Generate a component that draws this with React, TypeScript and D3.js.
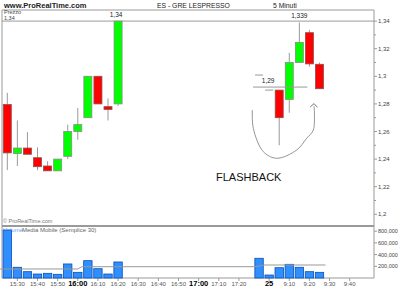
import React, { useEffect } from 'react';
import * as d3 from 'd3';

// ---- data ----
const candleSlot = [0, 1, 2, 3, 4, 5, 6, 7, 8, 9, 10, 11, 27, 28, 29, 30, 31];
const candleOpen = [1.2795, 1.244, 1.248, 1.241, 1.235, 1.2315, 1.242, 1.26, 1.27, 1.3, 1.278, 1.28, 1.29, 1.2833, 1.31, 1.3316, 1.3087];
const candleHigh = [1.288, 1.268, 1.2595, 1.2485, 1.2385, 1.24, 1.265, 1.277, 1.3, 1.3, 1.284, 1.34, 1.29, 1.317, 1.339, 1.3336, 1.31];
const candleLow = [1.232, 1.235, 1.2435, 1.232, 1.2315, 1.2315, 1.24, 1.254, 1.27, 1.28, 1.268, 1.2785, 1.25, 1.2736, 1.31, 1.307, 1.291];
const candleClose = [1.2445, 1.248, 1.2435, 1.2345, 1.2315, 1.24, 1.26, 1.265, 1.3, 1.28, 1.276, 1.34, 1.27, 1.31, 1.3246, 1.309, 1.291];

const volSlot = [0, 1, 2, 3, 4, 5, 6, 7, 8, 9, 10, 11, 25, 26, 27, 28, 29, 30, 31];
const volValue = [820000, 183000, 108000, 68000, 80000, 63000, 240000, 97000, 296000, 159000, 68000, 274000, 337000, 51000, 176000, 234000, 183000, 108000, 97000];

const maSlot = [-0.7, 7.0, 7.4, 24.6, 25.5, 31.6];
const maValue = [154000, 154000, 193000, 193000, 222000, 222000];

const timeTickSlot = [1, 3, 5, 7, 9, 11, 13, 15, 17, 19, 21, 23, 26, 28, 30, 32, 34];
const timeTickLabel = ['15:30', '15:40', '15:50', '16:00', '16:10', '16:20', '16:30', '16:40', '16:50', '17:00', '17:10', '17:20', '25', '9:10', '9:20', '9:30', '9:40'];
const timeTickBold = [false, false, false, true, false, false, false, false, false, true, false, false, true, false, false, false, false];

const priceMajor = [1.2, 1.22, 1.24, 1.26, 1.28, 1.3, 1.32, 1.34];
const priceMajorLabel = ['1,2', '1,22', '1,24', '1,26', '1,28', '1,3', '1,32', '1,34'];
const priceMinor = [1.21, 1.23, 1.25, 1.27, 1.29, 1.31, 1.33];

const volTicks = [200000, 400000, 600000, 800000];
const volTickLabel = ['200,000', '400,000', '600,000', '800,000'];

// annotations (data space: slot, price)
const highLabelSlot = [10.8, 29];
const highLabelPrice = [1.34, 1.339];
const highLabelText = ['1,34', '1,339'];

const levelLineSlots = [[24.6, 25.4], [24.4, 29.8], [25.6, 26.4]];
const levelLinePrices = [1.3009, 1.2922, 1.29];
const levelText = '1,29';
const levelTextSlot = 25.9;
const levelTextPrice = 1.2955;

const arrowSlot = [24.33, 24.43, 25.42, 26.75, 28.74, 29.73, 30.39, 30.46];
const arrowPrice = [1.2756, 1.2623, 1.2454, 1.2406, 1.2466, 1.2551, 1.2611, 1.2785];
const arrowHeadSlot = [30.08, 30.46, 30.8];
const arrowHeadPrice = [1.2778, 1.2802, 1.2775];

const FONT = "'Liberation Sans', Arial, sans-serif";

export default function App() {
  useEffect(() => {
    document.body.style.margin = '0';
  }, []);

  const W = 400, H = 300;
  const left = 2, right = 374, top = 10;
  const priceBottom = 225, volTop = 227, volBottom = 278;

  const x = d3.scaleLinear().domain([0, 34]).range([7.3, 349.7]);
  const y = d3.scaleLinear().domain([1.2, 1.34]).range([214.3, 21.1]);
  const yv = d3.scaleLinear().domain([0, 800000]).range([volBottom, 231.2]);
  const bw = 8;

  const maLine = d3.line<number>().x((_, i) => x(maSlot[i])).y((d) => yv(d));
  const arrowLine = d3
    .line<number>()
    .x((_, i) => x(arrowSlot[i]))
    .y((d) => y(d))
    .curve(d3.curveCatmullRom);
  const headLine = d3.line<number>().x((_, i) => x(arrowHeadSlot[i])).y((d) => y(d));

  const axisColor = '#9a9a9a';
  const textColor = '#444';

  return (
    <svg width={W} height={H} style={{ position: 'absolute', left: 0, top: 0, background: '#fff', fontFamily: FONT }}>
      <rect x={0} y={0} width={W} height={H} fill="#fff" />
      {/* header */}
      <text x={4} y={8} fontSize={7.5} fontWeight="bold" fill="#222">www.ProRealTime.com</text>
      <text x={157} y={8} fontSize={6.8} fill="#222">ES - GRE LESPRESSO</text>
      <text x={273} y={8} fontSize={6.8} fill="#222">5 Minuti</text>

      {/* frame */}
      <line x1={left} x2={right} y1={top} y2={top} stroke={axisColor} />
      <line x1={left} x2={left} y1={top} y2={volBottom} stroke={axisColor} />
      <line x1={right} x2={right} y1={top} y2={volBottom} stroke={axisColor} />
      <line x1={left} x2={right} y1={volBottom} y2={volBottom} stroke={axisColor} />
      <line x1={left} x2={right} y1={226} y2={226} stroke={axisColor} strokeWidth={2} />
      <line x1={left} x2={right} y1={y(1.34)} y2={y(1.34)} stroke={axisColor} />

      <text x={4} y={14} fontSize={5.5} fill={textColor}>Prezzo</text>
      <text x={4} y={20} fontSize={5.5} fill={textColor}>1,34</text>

      {/* price axis */}
      {priceMajor.map((p, i) => (
        <g key={'pm' + i}>
          <line x1={right} x2={right + 3} y1={y(p)} y2={y(p)} stroke={axisColor} />
          <text x={right + 4} y={y(p) + 2} fontSize={6} fill={textColor}>{priceMajorLabel[i]}</text>
        </g>
      ))}
      {priceMinor.map((p, i) => (
        <line key={'pn' + i} x1={right} x2={right + 2} y1={y(p)} y2={y(p)} stroke={axisColor} />
      ))}

      {/* volume axis */}
      {volTicks.map((v, i) => (
        <g key={'vt' + i}>
          <line x1={right} x2={right + 3} y1={yv(v)} y2={yv(v)} stroke={axisColor} />
          <text x={right + 4} y={yv(v) + 2} fontSize={5.5} fill={textColor}>{volTickLabel[i]}</text>
        </g>
      ))}

      {/* time axis */}
      {timeTickSlot.map((s, i) => (
        <g key={'tt' + i}>
          <line x1={x(s)} x2={x(s)} y1={volBottom} y2={volBottom + 3} stroke={axisColor} />
          <text
            x={x(s)}
            y={timeTickBold[i] ? 286 : 285.5}
            fontSize={timeTickBold[i] ? 7.5 : 6}
            fontWeight={timeTickBold[i] ? 'bold' : 'normal'}
            fill={timeTickBold[i] ? '#000' : '#555'}
            textAnchor="middle"
          >
            {timeTickLabel[i]}
          </text>
        </g>
      ))}

      {/* candles */}
      {candleSlot.map((s, i) => {
        const o = candleOpen[i], c = candleClose[i];
        const up = c >= o;
        const yt = y(Math.max(o, c));
        const yb = y(Math.min(o, c));
        return (
          <g key={'c' + i}>
            <line x1={x(s)} x2={x(s)} y1={y(candleHigh[i])} y2={y(candleLow[i])} stroke="#999" />
            <rect
              x={x(s) - bw / 2}
              y={yt}
              width={bw}
              height={Math.max(1, yb - yt)}
              fill={up ? '#00ff00' : '#ff0000'}
              stroke={up ? '#8a8a8a' : '#8a5050'}
              strokeWidth={0.8}
            />
          </g>
        );
      })}

      {/* high labels */}
      {highLabelSlot.map((s, i) => (
        <text key={'hl' + i} x={x(s)} y={y(highLabelPrice[i]) - 4} fontSize={6.5} textAnchor="middle" fill="#222">
          {highLabelText[i]}
        </text>
      ))}

      {/* level annotations */}
      {levelLineSlots.map((sl, i) => (
        <line key={'lv' + i} x1={x(sl[0])} x2={x(sl[1])} y1={y(levelLinePrices[i])} y2={y(levelLinePrices[i])} stroke="#999" />
      ))}
      <text x={x(levelTextSlot)} y={y(levelTextPrice)} fontSize={6.5} textAnchor="middle" fill="#222">{levelText}</text>

      {/* arrow */}
      <path d={arrowLine(arrowPrice) || ''} fill="none" stroke="#888" strokeWidth={0.9} />
      <path d={headLine(arrowHeadPrice) || ''} fill="none" stroke="#666" strokeWidth={0.9} />

      <text x={216} y={181} fontSize={11} fill="#111">FLASHBACK</text>

      {/* volume panel */}
      <text x={3} y={223} fontSize={5.5} fill="#777">© ProRealTime.com</text>
      <text x={3} y={232} fontSize={6} fill="#6aa0ff">Volume</text>
      <text x={22} y={232} fontSize={6} fill="#666">Media Mobile (Semplice 30)</text>

      {volSlot.map((s, i) => (
        <rect
          key={'v' + i}
          x={x(s) - 4.2}
          y={yv(volValue[i])}
          width={8.4}
          height={volBottom - yv(volValue[i])}
          fill="#2f8fff"
          stroke="#0a4fb0"
          strokeWidth={0.8}
        />
      ))}
      <path d={maLine(maValue) || ''} fill="none" stroke="#999" strokeWidth={1} />
    </svg>
  );
}
